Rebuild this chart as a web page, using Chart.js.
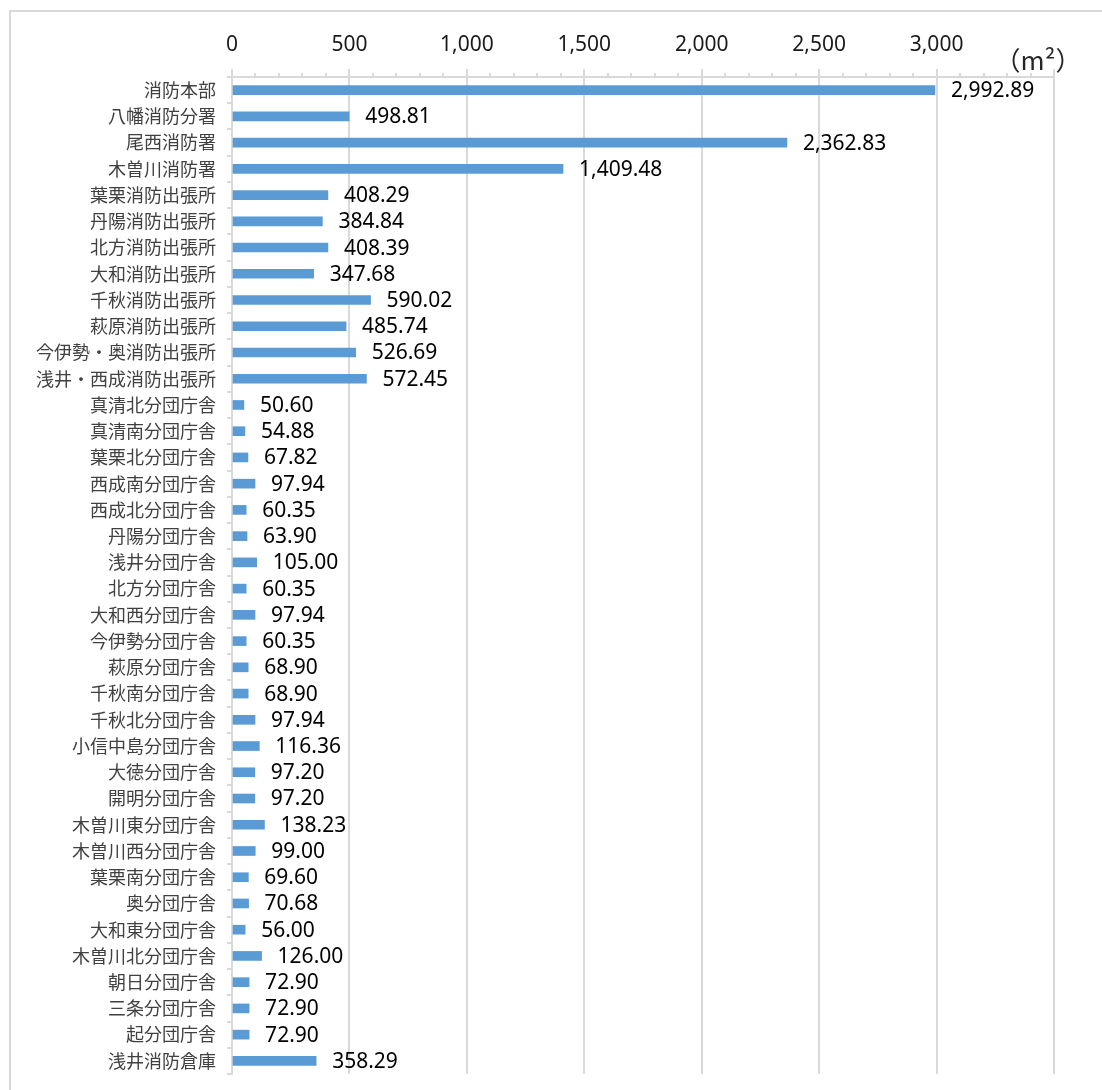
<!DOCTYPE html>
<html>
<head>
<meta charset="utf-8">
<script src="https://cdn.jsdelivr.net/npm/chart.js@4/dist/chart.umd.min.js"></script>
<style>
  html, body { margin: 0; padding: 0; background: #fff; }
  #wrap { position: relative; width: 1102px; height: 1090px; overflow: hidden; }
  #frame { position: absolute; left: 9px; top: 10px; width: 1100px; height: 1100px; border: 2px solid #d9d9d9; box-sizing: border-box; }
  #cv { position: absolute; left: 0; top: 0; }
</style>
</head>
<body>
<div id="wrap">
  <div id="frame"></div>
  <canvas id="cv" width="1102" height="1090"></canvas>
</div>
<script>
const categories = [
  '消防本部','八幡消防分署','尾西消防署','木曽川消防署','葉栗消防出張所','丹陽消防出張所',
  '北方消防出張所','大和消防出張所','千秋消防出張所','萩原消防出張所','今伊勢・奥消防出張所','浅井・西成消防出張所',
  '真清北分団庁舎','真清南分団庁舎','葉栗北分団庁舎','西成南分団庁舎','西成北分団庁舎','丹陽分団庁舎',
  '浅井分団庁舎','北方分団庁舎','大和西分団庁舎','今伊勢分団庁舎','萩原分団庁舎','千秋南分団庁舎',
  '千秋北分団庁舎','小信中島分団庁舎','大徳分団庁舎','開明分団庁舎','木曽川東分団庁舎','木曽川西分団庁舎',
  '葉栗南分団庁舎','奥分団庁舎','大和東分団庁舎','木曽川北分団庁舎','朝日分団庁舎','三条分団庁舎',
  '起分団庁舎','浅井消防倉庫'
];
const areaValues = [
  2992.89, 498.81, 2362.83, 1409.48, 408.29, 384.84,
  408.39, 347.68, 590.02, 485.74, 526.69, 572.45,
  50.60, 54.88, 67.82, 97.94, 60.35, 63.90,
  105.00, 60.35, 97.94, 60.35, 68.90, 68.90,
  97.94, 116.36, 97.20, 97.20, 138.23, 99.00,
  69.60, 70.68, 56.00, 126.00, 72.90, 72.90,
  72.90, 358.29
];
const xTickLabels = { 0: '0', 500: '500', 1000: '1,000', 1500: '1,500', 2000: '2,000', 2500: '2,500', 3000: '3,000' };
const unitLabel = '（m²）';

const GRID = '#d9d9d9';
const LATIN = '"Noto Sans", "Noto Sans CJK JP", sans-serif';
const CJK = '"Noto Sans CJK JP", "Noto Sans", sans-serif';

const fmt = v => v.toLocaleString('en-US', { minimumFractionDigits: 2, maximumFractionDigits: 2 });

const extrasPlugin = {
  id: 'extras',
  afterDatasetsDraw(chart) {
    const ctx = chart.ctx;
    const meta = chart.getDatasetMeta(0);
    ctx.save();
    ctx.font = '21px ' + LATIN;
    ctx.fillStyle = '#000000';
    ctx.textAlign = 'left';
    ctx.textBaseline = 'middle';
    meta.data.forEach((bar, i) => {
      ctx.fillText(fmt(areaValues[i]), bar.x + 16, bar.y + 1);
    });
    ctx.restore();
  },
  afterDraw(chart) {
    const ctx = chart.ctx;
    const xs = chart.scales.x;
    const top = chart.chartArea.top;
    ctx.save();
    ctx.strokeStyle = GRID;
    ctx.lineWidth = 2;
    for (let v = 100; v < 3500; v += 100) {
      if (v % 500 === 0) continue;
      const px = Math.round(xs.getPixelForValue(v));
      ctx.beginPath();
      ctx.moveTo(px, top - 4);
      ctx.lineTo(px, top);
      ctx.stroke();
    }
    ctx.font = '26px ' + CJK;
    ctx.fillStyle = '#262626';
    ctx.textAlign = 'center';
    ctx.textBaseline = 'middle';
    ctx.fillText(unitLabel, xs.getPixelForValue(3500) - 16, 60);
    ctx.restore();
  }
};

new Chart(document.getElementById('cv'), {
  type: 'bar',
  data: {
    labels: categories,
    datasets: [{
      data: areaValues,
      backgroundColor: '#5B9BD5',
      borderWidth: 0,
      barThickness: 9
    }]
  },
  options: {
    indexAxis: 'y',
    responsive: false,
    animation: false,
    events: [],
    layout: { padding: { left: 0, top: 0, right: 48, bottom: 16 } },
    plugins: { legend: { display: false }, tooltip: { enabled: false } },
    scales: {
      x: {
        position: 'top',
        min: 0,
        max: 3500,
        afterFit(scale) { scale.height = 77; scale.paddingLeft = 0; scale.paddingRight = 0; },
        ticks: {
          stepSize: 100,
          autoSkip: false,
          maxRotation: 0,
          padding: 11,
          color: '#1a1a1a',
          font: { family: LATIN, size: 21 },
          callback: v => (xTickLabels[v] !== undefined ? xTickLabels[v] : '')
        },
        grid: {
          color: c => (c.tick && c.tick.value % 500 === 0 ? GRID : 'rgba(0,0,0,0)'),
          tickColor: c => (c.tick && c.tick.value % 500 === 0 ? GRID : 'rgba(0,0,0,0)'),
          lineWidth: 2,
          tickLength: 8
        },
        border: { display: true, color: GRID, width: 2 }
      },
      y: {
        afterFit(scale) { scale.width = 232; scale.paddingTop = 0; scale.paddingBottom = 0; },
        ticks: {
          padding: 11,
          color: '#404040',
          font: { family: CJK, size: 18 },
          autoSkip: false
        },
        grid: {
          offset: true,
          drawOnChartArea: false,
          color: GRID,
          tickColor: GRID,
          lineWidth: 2,
          tickLength: 5
        },
        border: { display: true, color: GRID, width: 2 }
      }
    }
  },
  plugins: [extrasPlugin]
});
</script>
</body>
</html>
